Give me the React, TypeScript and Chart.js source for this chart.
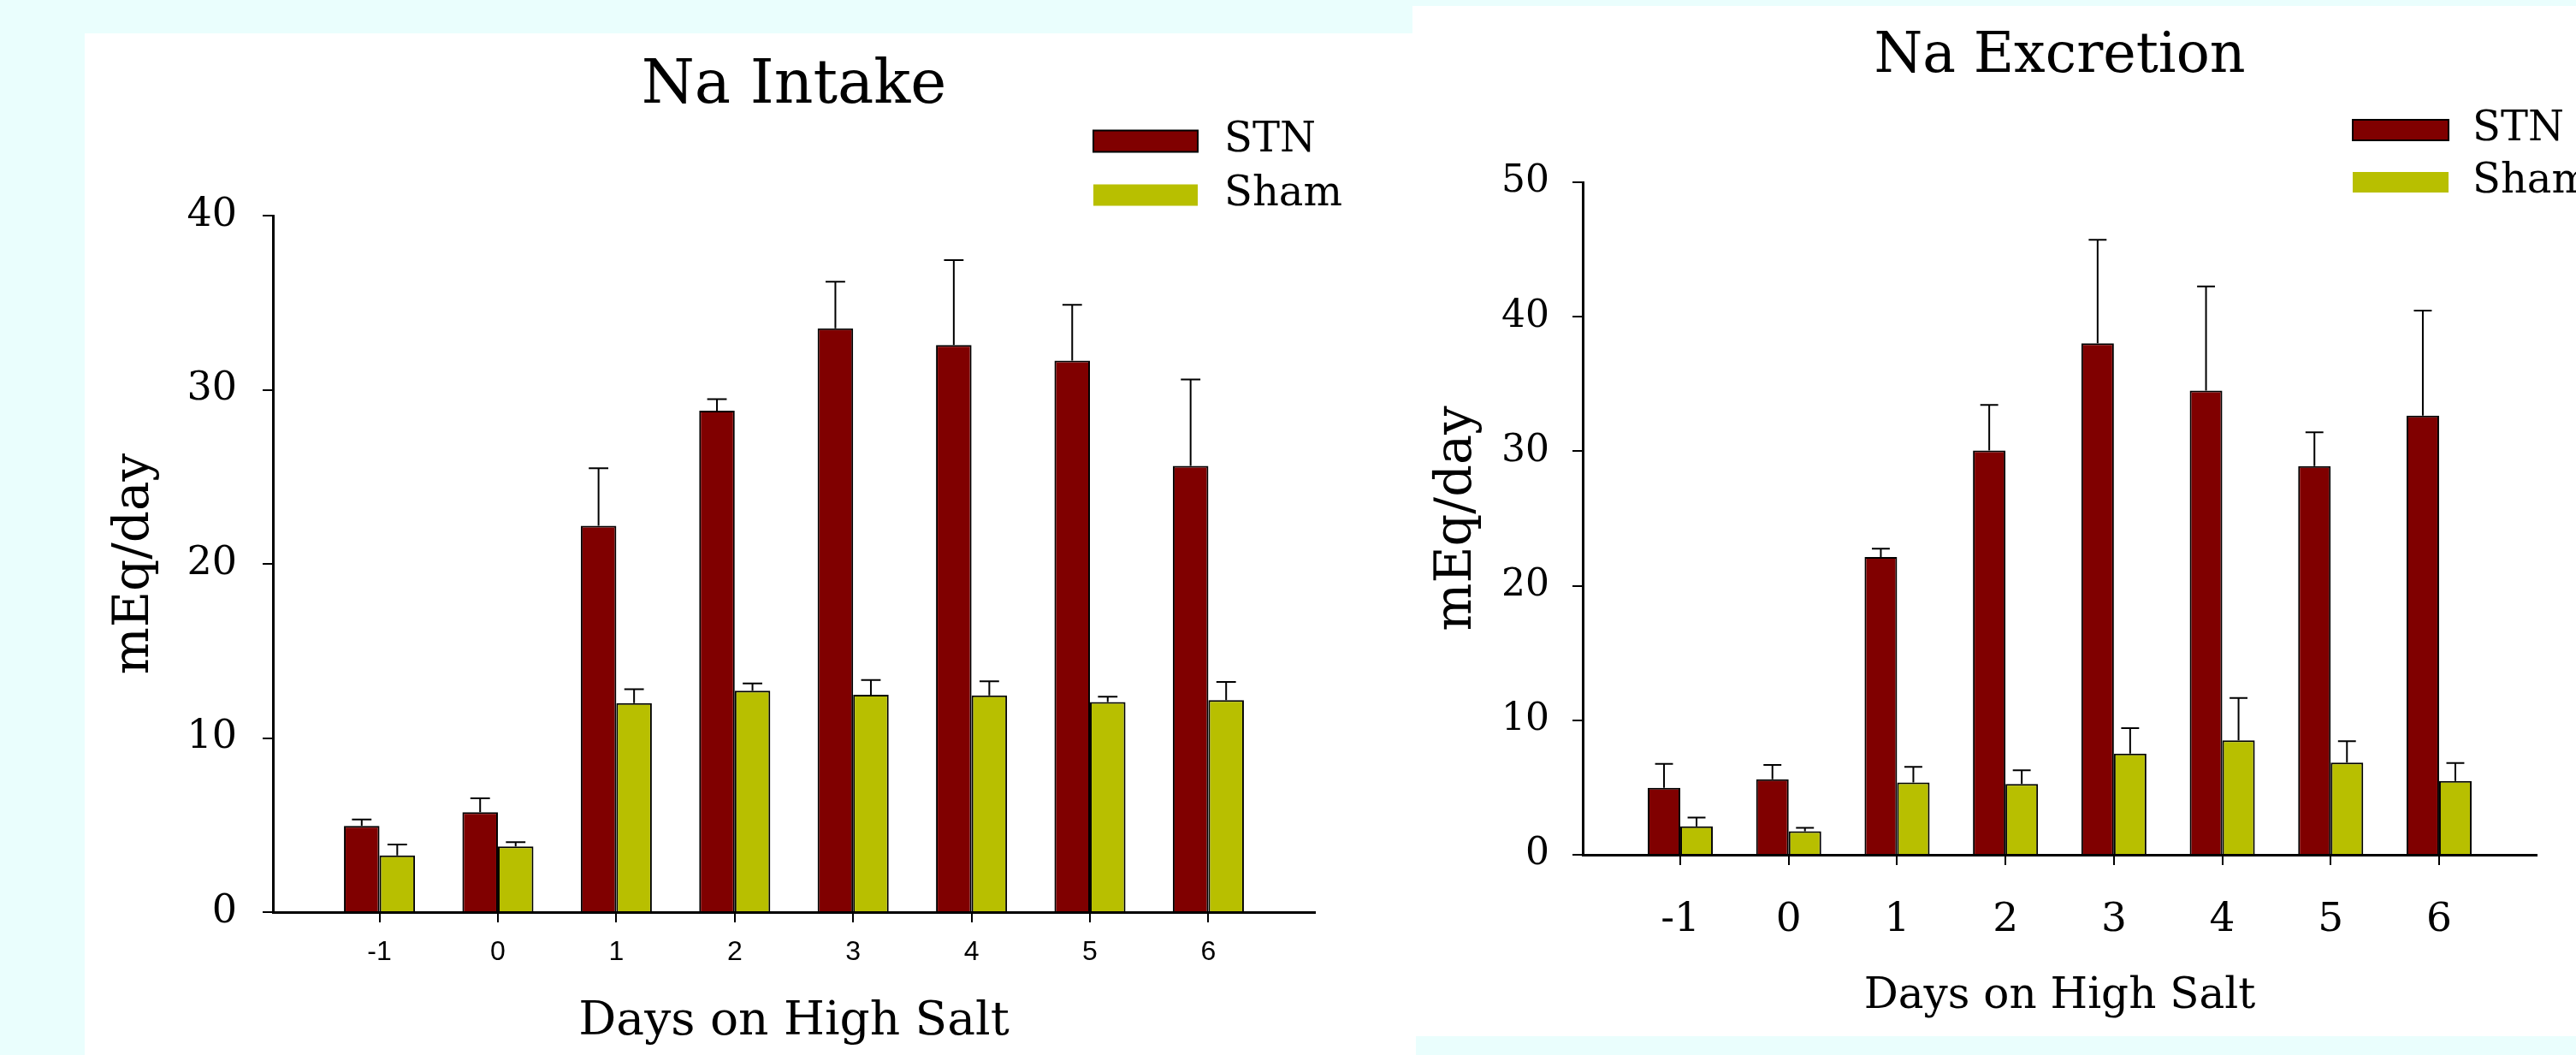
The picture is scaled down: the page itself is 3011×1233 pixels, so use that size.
import React, { useEffect, useRef } from 'react';
import { Chart, registerables } from 'chart.js';

Chart.register(...registerables);

// ---- data ----
const days = [-1, 0, 1, 2, 3, 4, 5, 6];
const dayLabels = ['-1', '0', '1', '2', '3', '4', '5', '6'];
const seriesNames = ['STN', 'Sham'];

const intakeSTN = [4.95, 5.74, 22.19, 28.79, 33.53, 32.57, 31.67, 25.63];
const intakeSTNErr = [0.37, 0.79, 3.3, 0.67, 2.68, 4.88, 3.21, 4.96];
const intakeSham = [3.26, 3.77, 12.0, 12.71, 12.48, 12.45, 12.06, 12.18];
const intakeShamErr = [0.62, 0.25, 0.8, 0.42, 0.85, 0.8, 0.31, 1.04];

const excretionSTN = [4.97, 5.62, 22.13, 30.05, 38.02, 34.51, 28.89, 32.65];
const excretionSTNErr = [1.79, 1.06, 0.62, 3.4, 7.7, 7.74, 2.52, 7.81];
const excretionSham = [2.12, 1.75, 5.37, 5.26, 7.53, 8.51, 6.86, 5.48];
const excretionShamErr = [0.65, 0.26, 1.17, 1.02, 1.89, 3.14, 1.58, 1.35];

const STN_COLOR = '#800000';
const SHAM_COLOR = '#B8BF00';
const SERIF = '"DejaVu Serif"';

// ---- plugins ----
const errorBars = {
  id: 'errorBars',
  afterDatasetsDraw(chart: any) {
    const { ctx } = chart;
    const yScale = chart.scales.y;
    ctx.save();
    ctx.strokeStyle = '#000';
    ctx.lineWidth = 2;
    chart.data.datasets.forEach((ds: any, di: number) => {
      const meta = chart.getDatasetMeta(di);
      meta.data.forEach((el: any, i: number) => {
        const v = ds.data[i].y;
        const e = ds.errors[i];
        const yTop = yScale.getPixelForValue(v + e);
        const half = (el.width * 0.55) / 2;
        ctx.beginPath();
        ctx.moveTo(el.x, el.y);
        ctx.lineTo(el.x, yTop);
        ctx.moveTo(el.x - half, yTop);
        ctx.lineTo(el.x + half, yTop);
        ctx.stroke();
      });
    });
    ctx.restore();
  },
};

const panelText = {
  id: 'panelText',
  afterDraw(chart: any, _args: any, opts: any) {
    const { ctx, chartArea } = chart;
    ctx.save();
    ctx.fillStyle = '#000';
    ctx.font = `${opts.titleSize}px ${SERIF}`;
    ctx.textAlign = 'center';
    ctx.textBaseline = 'alphabetic';
    ctx.fillText(opts.title, (chartArea.left + chartArea.right) / 2, opts.titleY);

    chart.data.datasets.forEach((ds: any, i: number) => {
      const cy = opts.legendY + i * opts.legendGap;
      const x = opts.legendX;
      const w = opts.swatchW;
      const h = opts.swatchH;
      ctx.fillStyle = ds.backgroundColor;
      ctx.fillRect(x, cy - h / 2, w, h);
      if (i === 0) {
        ctx.strokeStyle = '#000';
        ctx.lineWidth = 2;
        ctx.strokeRect(x, cy - h / 2, w, h);
      }
      ctx.fillStyle = '#000';
      ctx.font = `${opts.legendSize}px ${SERIF}`;
      ctx.textAlign = 'left';
      ctx.textBaseline = 'middle';
      ctx.fillText(ds.label, x + w + opts.textGap, cy);
    });
    ctx.restore();
  },
};

function makeConfig(p: any) {
  const mk = (vals: number[]) => vals.map((v, i) => ({ x: days[i], y: v }));
  return {
    type: 'bar',
    data: {
      datasets: [
        {
          label: seriesNames[0],
          data: mk(p.stn),
          errors: p.stnErr,
          backgroundColor: STN_COLOR,
          borderColor: '#000',
          borderWidth: 2,
          categoryPercentage: 0.6,
          barPercentage: 1,
        },
        {
          label: seriesNames[1],
          data: mk(p.sham),
          errors: p.shamErr,
          backgroundColor: SHAM_COLOR,
          borderColor: '#000',
          borderWidth: 2,
          categoryPercentage: 0.6,
          barPercentage: 1,
        },
      ],
    },
    options: {
      responsive: false,
      animation: false,
      layout: { padding: { left: 0, right: p.padRight, top: p.padTop, bottom: 0 } },
      plugins: {
        legend: { display: false },
        title: { display: false },
        tooltip: { enabled: false },
        panelText: p.text,
      },
      scales: {
        x: {
          type: 'linear',
          offset: false,
          min: -1.9,
          max: 6.9,
          afterBuildTicks: (axis: any) => {
            axis.ticks = days.map((v) => ({ value: v }));
          },
          afterFit: (scale: any) => {
            scale.height = p.xHeight;
          },
          ticks: {
            autoSkip: false,
            maxRotation: 0,
            padding: p.xTickPad,
            color: '#000',
            font: p.xTickFont,
            callback: (value: number) => dayLabels[days.indexOf(value)],
          },
          grid: {
            offset: false,
            drawOnChartArea: false,
            drawTicks: true,
            tickLength: 12,
            color: '#000',
            lineWidth: 2,
          },
          border: { display: true, color: '#000', width: 3 },
          title: {
            display: true,
            text: 'Days on High Salt',
            color: '#000',
            font: { family: SERIF, size: p.xTitleSize },
            padding: { top: 0, bottom: p.xTitlePad },
          },
        },
        y: {
          min: 0,
          max: p.yMax,
          afterFit: (scale: any) => {
            scale.width = p.yWidth;
          },
          ticks: {
            stepSize: 10,
            padding: p.yTickPad,
            color: '#000',
            font: { family: SERIF, size: p.yTickSize },
          },
          grid: {
            drawOnChartArea: false,
            drawTicks: true,
            tickLength: 12,
            color: '#000',
            lineWidth: 2,
          },
          border: { display: true, color: '#000', width: 3 },
          title: {
            display: true,
            text: 'mEq/day',
            color: '#000',
            font: { family: SERIF, size: p.yTitleSize },
            padding: { top: p.yTitlePad, bottom: 0 },
          },
        },
      },
    },
    plugins: [errorBars, panelText],
  };
}

function BarPanel(props: { p: any; width: number; height: number; style: any }) {
  const ref = useRef<HTMLCanvasElement | null>(null);
  useEffect(() => {
    if (!ref.current) return;
    const chart = new Chart(ref.current, makeConfig(props.p) as any);
    return () => chart.destroy();
  }, []);
  return <canvas ref={ref} width={props.width} height={props.height} style={props.style} />;
}

const intakeParams = {
  stn: intakeSTN,
  stnErr: intakeSTNErr,
  sham: intakeSham,
  shamErr: intakeShamErr,
  yMax: 40,
  padRight: 114,
  padTop: 213,
  yWidth: 220,
  xHeight: 167,
  xTickPad: 16,
  xTickFont: { family: '"Liberation Sans"', size: 32 },
  xTitleSize: 55,
  xTitlePad: 5,
  yTickSize: 46,
  yTickPad: 30,
  yTitleSize: 58,
  yTitlePad: 24,
  text: {
    title: 'Na Intake',
    titleSize: 71,
    titleY: 81,
    legendX: 1179,
    legendY: 126,
    legendGap: 63,
    swatchW: 122,
    swatchH: 25,
    legendSize: 48,
    textGap: 31,
  },
};

const excretionParams = {
  stn: excretionSTN,
  stnErr: excretionSTNErr,
  sham: excretionSham,
  shamErr: excretionShamErr,
  yMax: 50,
  padRight: 46,
  padTop: 206,
  yWidth: 199,
  xHeight: 212,
  xTickPad: 37,
  xTickFont: { family: SERIF, size: 47 },
  xTitleSize: 50,
  xTitlePad: 16,
  yTickSize: 44,
  yTickPad: 27,
  yTitleSize: 59,
  yTitlePad: 17,
  text: {
    title: 'Na Excretion',
    titleSize: 65,
    titleY: 77,
    legendX: 1099,
    legendY: 145,
    legendGap: 61,
    swatchW: 112,
    swatchH: 24,
    legendSize: 48,
    textGap: 28,
  },
};

export default function App() {
  return (
    <div
      style={{
        position: 'fixed',
        left: 0,
        top: 0,
        width: 3011,
        height: 1233,
        background: '#EAFEFD',
        overflow: 'hidden',
      }}
    >
      <div style={{ position: 'absolute', left: 99, top: 39, width: 1556, height: 1194, background: '#fff' }} />
      <div style={{ position: 'absolute', left: 1651, top: 7, width: 1360, height: 1204, background: '#fff' }} />
      <BarPanel
        p={intakeParams}
        width={1552}
        height={1194}
        style={{ position: 'absolute', left: 99, top: 39 }}
      />
      <BarPanel
        p={excretionParams}
        width={1360}
        height={1204}
        style={{ position: 'absolute', left: 1651, top: 7 }}
      />
    </div>
  );
}
